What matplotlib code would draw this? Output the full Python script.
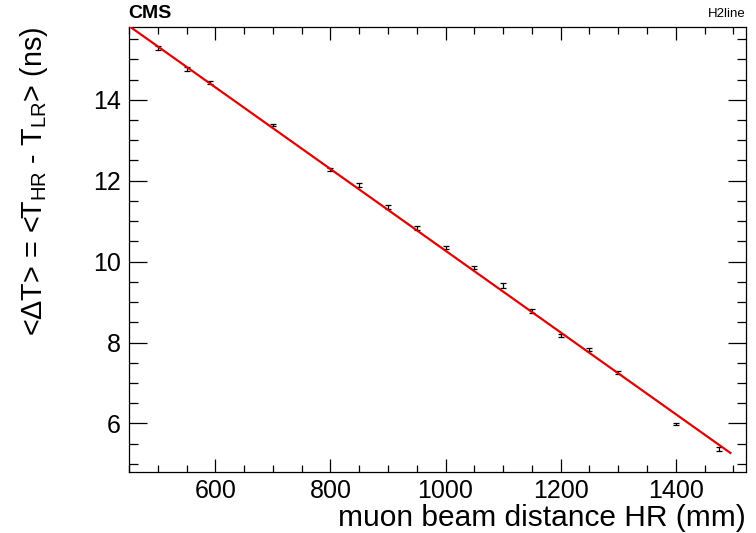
import matplotlib
matplotlib.use("Agg")
import matplotlib.pyplot as plt
import numpy as np
from matplotlib.ticker import MultipleLocator

plt.rcParams['font.family'] = ['Liberation Sans', 'DejaVu Sans']
plt.rcParams['mathtext.fontset'] = 'custom'
plt.rcParams['mathtext.rm'] = 'Liberation Sans'
plt.rcParams['mathtext.it'] = 'Liberation Sans:italic'
plt.rcParams['mathtext.bf'] = 'Liberation Sans:bold'

# data
distance_mm = [500, 550, 590, 700, 800, 850, 900, 950, 1000, 1050,
               1100, 1150, 1200, 1250, 1300, 1400, 1475]
delta_t_ns = [15.28, 14.77, 14.42, 13.38, 12.27, 11.90, 11.35, 10.83, 10.35, 9.85,
              9.41, 8.79, 8.18, 7.83, 7.26, 5.99, 5.38]
delta_t_err = [0.05, 0.05, 0.04, 0.03, 0.04, 0.05, 0.04, 0.04, 0.04, 0.04,
               0.05, 0.05, 0.04, 0.03, 0.03, 0.03, 0.05]
fit_intercept = 20.37
fit_slope = -0.0101
fit_range = [450, 1495]

fig = plt.figure(figsize=(7.56, 5.33), dpi=100)
ax = fig.add_axes([129/756, 1-472/533, (746-129)/756, (472-27)/533])

ax.errorbar(distance_mm, delta_t_ns, yerr=delta_t_err, fmt='none',
            ecolor='black', elinewidth=0.9, capsize=2.5, capthick=0.9, zorder=2)
fx = np.linspace(fit_range[0], fit_range[1], 200)
ax.plot(fx, fit_intercept + fit_slope * fx, color='#e00000', lw=1.6, zorder=3)

ax.set_xlim(450, 1522)
ax.set_ylim(4.8, 15.8)
ax.xaxis.set_major_locator(MultipleLocator(200))
ax.xaxis.set_minor_locator(MultipleLocator(50))
ax.yaxis.set_major_locator(MultipleLocator(2))
ax.yaxis.set_minor_locator(MultipleLocator(0.5))

ax.tick_params(axis='both', which='both', direction='in', top=True, right=True,
               labelsize=18, width=0.9, color='black')
ax.tick_params(axis='x', which='major', length=9.5, pad=5)
ax.tick_params(axis='x', which='minor', length=4.7)
ax.tick_params(axis='y', which='major', length=13, pad=6)
ax.tick_params(axis='y', which='minor', length=6.5)
for s in ax.spines.values():
    s.set_linewidth(0.9)

ax.set_xlabel('muon beam distance HR (mm)', fontsize=21.5, loc='right', labelpad=1)
ax.set_ylabel(r'<$\Delta$T> = <T$_{\mathrm{HR}}$ - T$_{\mathrm{LR}}$> (ns)',
              fontsize=20.7, loc='top')
ax.yaxis.set_label_coords((50-129)/617, 1.0)

fig.text(128/756, 1-14/533, 'CMS', fontsize=14, fontweight='bold', ha='left', va='center')
fig.text(746/756, 1-14/533, 'H2line', fontsize=9.5, ha='right', va='center')

fig.savefig('out.png', dpi=100)
